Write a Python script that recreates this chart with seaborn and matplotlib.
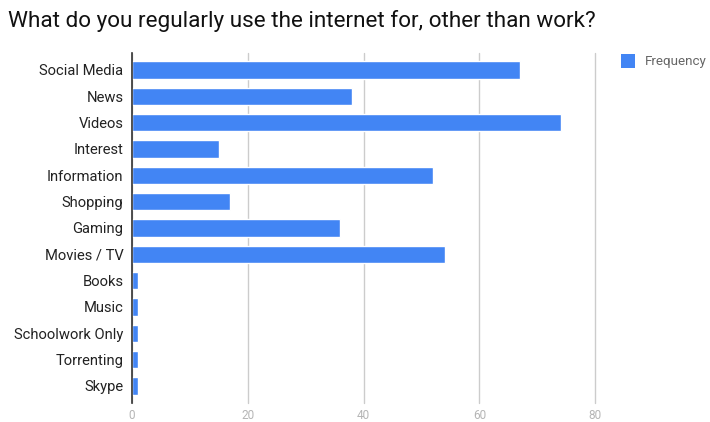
import matplotlib
matplotlib.use("Agg")
import matplotlib.pyplot as plt
import seaborn as sns
import pandas as pd
from matplotlib.patches import Rectangle

categories = ["Social Media", "News", "Videos", "Interest", "Information", "Shopping",
              "Gaming", "Movies / TV", "Books", "Music", "Schoolwork Only",
              "Torrenting", "Skype"]
frequency = [67, 38, 74, 15, 52, 17, 36, 54, 1, 1, 1, 1, 1]
x_ticks = [0, 20, 40, 60, 80]
title = "What do you regularly use the internet for, other than work?"
series_name = "Frequency"

sns.set_theme(style="white")
plt.rcParams["font.family"] = ["Roboto", "DejaVu Sans"]

df = pd.DataFrame({"category": categories, "value": frequency})

fig = plt.figure(figsize=(7.10, 4.22), dpi=100)
ax = fig.add_axes([0.1855, 0.045, 0.653, 0.830])

BLUE = "#4285F4"
sns.barplot(data=df, y="category", x="value", orient="h", color=BLUE,
            width=0.66, saturation=1, ax=ax)

ax.set_xlim(0, 80)
ax.set_ylim(len(categories) - 0.35, -0.65)
ax.set_xticks(x_ticks)
ax.set_xticklabels([str(t) for t in x_ticks])
ax.xaxis.grid(True, color="#cccccc", linewidth=1)
ax.set_axisbelow(True)
ax.set_xlabel("")
ax.set_ylabel("")
for s in ["top", "right", "bottom"]:
    ax.spines[s].set_visible(False)
ax.spines["left"].set_color("#333333")
ax.spines["left"].set_linewidth(1.2)
ax.spines["left"].set_zorder(5)
for line in ax.get_xgridlines():
    line.set_clip_on(False)
ax.tick_params(axis="x", length=0, pad=4, labelsize=8.5, labelcolor="#b5b5b5")
ax.tick_params(axis="y", length=0, pad=6, labelsize=10.6, labelcolor="#222222")

fig.text(8 / 710, 1 - 21 / 422, title, fontsize=16.2, color="#111111",
         ha="left", va="center")

# legend entry
fig.patches.append(Rectangle((621 / 710, 1 - 68 / 422), 14 / 710, 14 / 422,
                             transform=fig.transFigure, facecolor=BLUE,
                             edgecolor="none", figure=fig))
fig.text(645 / 710, 1 - 61 / 422, series_name, fontsize=9.6, color="#666666",
         ha="left", va="center")

fig.savefig("out.png", dpi=100)
